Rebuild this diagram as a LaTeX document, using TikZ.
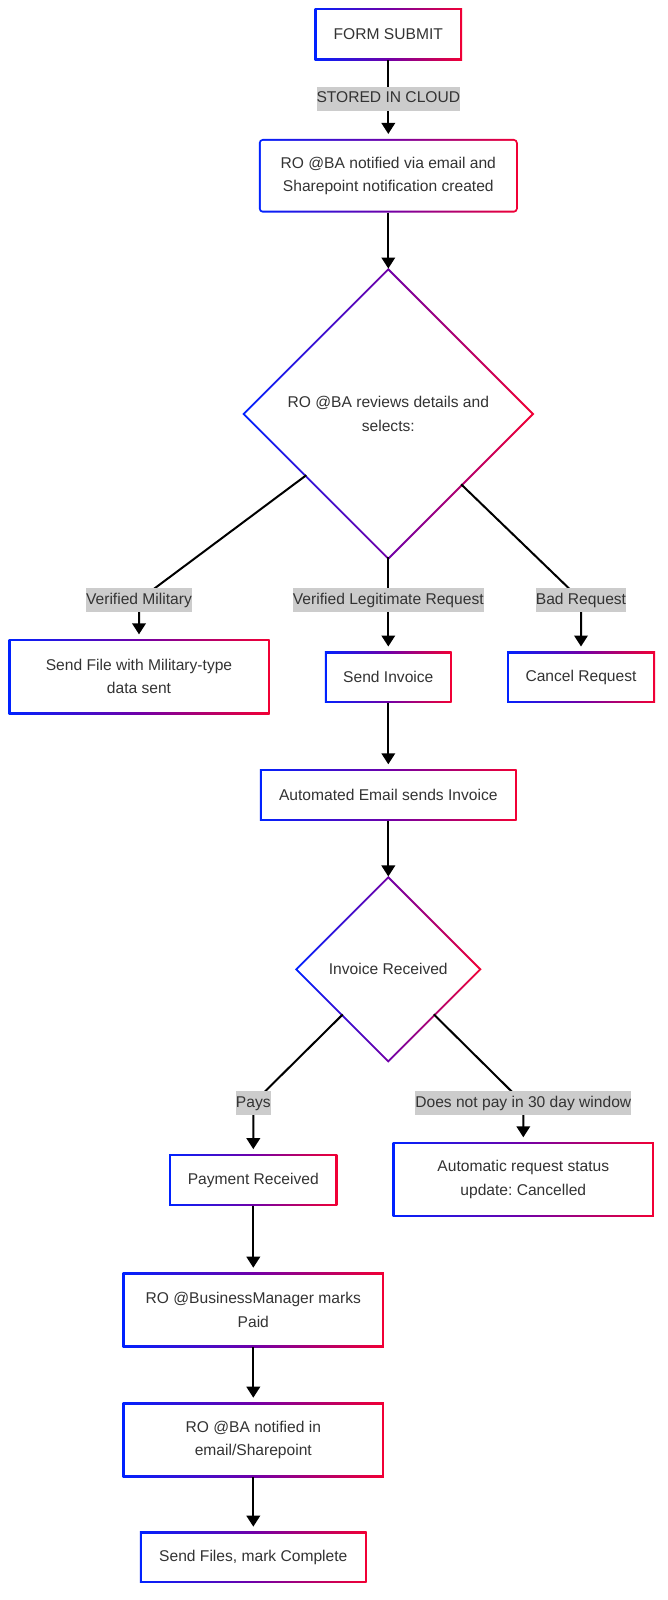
\documentclass[tikz,border=0pt]{standalone}
\usepackage{fontspec}
\setmainfont{Liberation Sans}
\usetikzlibrary{arrows.meta,shapes.geometric,calc,backgrounds}
\frenchspacing

\definecolor{gblue}{RGB}{0,34,255}
\definecolor{gpurple}{RGB}{112,0,168}
\definecolor{gred}{RGB}{242,0,52}
\definecolor{ink}{HTML}{333333}
\definecolor{lblfill}{RGB}{204,204,204}

\begin{document}
\begin{tikzpicture}[x=1pt,y=-1pt,
  every node/.style={font=\fontsize{15.6}{23.2}\selectfont, text=ink},
  gbox/.style={rectangle, fill=white, align=center, inner sep=0pt, outer sep=2pt},
  gdiam/.style={diamond, fill=white, align=center, inner sep=0pt, outer sep=0pt, aspect=1},
  grad/.style={left color=gblue, right color=gred, middle color=gpurple},
  lbl/.style={fill=lblfill, inner xsep=0pt, inner ysep=0pt, text height=11.5pt, text depth=3.5pt, minimum height=23.5pt},
  flow/.style={draw=black, line width=2pt, -{Triangle[width=13.5pt,length=11pt]}, shorten >=5pt},
  todiam/.style={shorten >=2.3pt},
]
\useasboundingbox (0,0) rectangle (667,1600);

% process boxes
\node[gbox, minimum width=143.4pt, minimum height=47.7pt] (form) at (388.3,34.2) {FORM SUBMIT};
\node[gbox, rounded corners=2pt, minimum width=255pt, minimum height=69.7pt] (notify) at (388.3,175.8)
  {RO @BA notified via email and\\Sharepoint notification created};
\node[gdiam, minimum width=286.3pt, minimum height=286.3pt] (d1) at (388.3,414)
  {RO @BA reviews details and\\selects:};
\node[gbox, minimum width=257pt, minimum height=70.7pt] (sendfile) at (139,676.7)
  {Send File with Military-type\\data sent};
\node[gbox, minimum width=122.7pt, minimum height=47pt] (sendinv) at (388.3,677) {Send Invoice};
\node[gbox, minimum width=144pt, minimum height=47pt] (cancel) at (581,677) {Cancel Request};
\node[gbox, minimum width=252.7pt, minimum height=47.4pt] (autoemail) at (388.3,795) {Automated Email sends Invoice};
\node[gdiam, minimum width=181pt, minimum height=181pt] (d2) at (388.3,969.3) {Invoice Received};
\node[gbox, minimum width=164.3pt, minimum height=47.7pt] (payment) at (253.3,1180) {Payment Received};
\node[gbox, minimum width=257.3pt, minimum height=70.4pt] (autocancel) at (523.3,1179.5)
  {Automatic request status\\update: Cancelled};
\node[gbox, minimum width=257.3pt, minimum height=70.6pt] (bm) at (253.3,1310)
  {RO @BusinessManager marks\\Paid};
\node[gbox, minimum width=257.3pt, minimum height=70.6pt] (notified2) at (253.3,1440)
  {RO @BA notified in\\email/Sharepoint};
\node[gbox, minimum width=222.7pt, minimum height=47.3pt] (sendfiles) at (253.3,1557.3) {Send Files, mark Complete};

% gradient outlines behind the white boxes
\begin{scope}[on background layer]
  \foreach \n in {form,sendfile,sendinv,cancel,autoemail,payment,autocancel,bm,notified2,sendfiles}
    \shade[grad] (\n.south west) rectangle (\n.north east);
  \shade[grad, rounded corners=4pt] (notify.south west) rectangle (notify.north east);
  \foreach \n in {d1,d2}
    \shade[grad] ($(\n.north)+(0pt,2.83pt)$) -- ($(\n.east)+(2.83pt,0pt)$)
      -- ($(\n.south)+(0pt,-2.83pt)$) -- ($(\n.west)+(-2.83pt,0pt)$) -- cycle;
\end{scope}

% label anchor points on the connectors
\coordinate (m0) at (388.3,99);
\coordinate (m1) at (139,600);
\coordinate (m2) at (388.3,600);
\coordinate (m3) at (581,600);
\coordinate (m4) at (253.3,1103);
\coordinate (m5) at (523.3,1103);

% connectors
\draw[flow] (form) -- (m0) node[lbl] (l0) {STORED IN CLOUD} -- (notify);
\draw[flow,todiam] (notify) -- (d1);
\draw[flow] (d1) -- (m1) node[lbl] (l1) {Verified Military} -- (m1 |- sendfile.north);
\draw[flow] (d1) -- (m2) node[lbl] (l2) {Verified Legitimate Request} -- (sendinv);
\draw[flow] (d1) -- (m3) node[lbl] (l3) {Bad Request} -- (cancel);
\draw[flow] (sendinv) -- (autoemail);
\draw[flow,todiam] (autoemail) -- (d2);
\draw[flow] (d2) -- (m4) node[lbl] (l4) {Pays} -- (payment);
\draw[flow] (d2) -- (m5) node[lbl] (l5) {Does not pay in 30 day window} -- (autocancel);
\draw[flow] (payment) -- (bm);
\draw[flow] (bm) -- (notified2);
\draw[flow] (notified2) -- (sendfiles);
\end{tikzpicture}
\end{document}
